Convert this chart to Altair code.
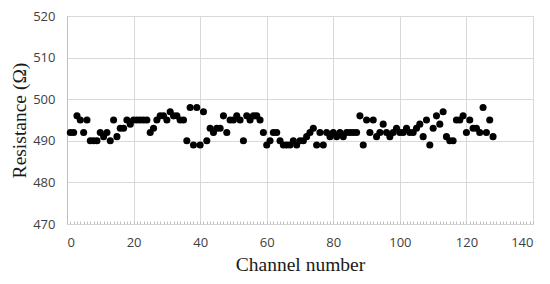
import altair as alt
import pandas as pd

channels = list(range(1, 129))
resistance = [
    492, 492, 496, 495, 492, 495, 490, 490, 490, 492,
    491, 492, 490, 495, 491, 493, 493, 495, 494, 495,
    495, 495, 495, 495, 492, 493, 495, 496, 496, 495,
    497, 496, 496, 495, 495, 490, 498, 489, 498, 489,
    497, 490, 493, 492, 493, 493, 496, 492, 495, 495,
    496, 495, 490, 496, 495, 496, 496, 495, 492, 489,
    490, 492, 492, 490, 489, 489, 489, 490, 489, 490,
    490, 491, 492, 493, 489, 492, 489, 492, 491, 492,
    491, 492, 491, 492, 492, 492, 492, 496, 489, 495,
    492, 495, 491, 492, 494, 492, 491, 492, 493, 492,
    492, 493, 492, 492, 493, 494, 491, 495, 489, 493,
    496, 494, 497, 491, 490, 490, 495, 495, 496, 492,
    495, 493, 493, 492, 498, 492, 495, 491,
]
x_ticks = list(range(0, 141))
y_ticks = [470, 480, 490, 500, 510, 520]

df = pd.DataFrame({"channel": channels, "resistance": resistance})

label_font = "Open Sans"
title_font = "Liberation Serif"

chart = alt.Chart(df).mark_circle(size=50, color="#000000", opacity=1).encode(
    x=alt.X(
        "channel:Q",
        scale=alt.Scale(domain=[0, 140], nice=False, zero=False),
        axis=alt.Axis(
            values=x_ticks,
            labelExpr="datum.value % 20 == 0 ? datum.label : ''",
            title="Channel number",
            titleFont=title_font,
            titleFontSize=19.5,
            titleFontWeight="normal",
            titleColor="#1a1a1a",
            titlePadding=6,
            labelFont=label_font,
            labelFontSize=13,
            labelColor="#404040",
            labelPadding=12,
            labelOverlap=False,
            domain=False,
            offset=-3,
            tickSize=3,
            tickColor="#bfbfbf",
            tickWidth=1,
            grid=True,
            gridColor={"condition": {"test": "datum.value % 20 == 0", "value": "#d9d9d9"}, "value": "transparent"},
            gridWidth=1,
        ),
    ),
    y=alt.Y(
        "resistance:Q",
        scale=alt.Scale(domain=[470, 520], nice=False, zero=False),
        axis=alt.Axis(
            values=y_ticks,
            title="Resistance (Ω)",
            titleFont=title_font,
            titleFontSize=19.5,
            titleFontWeight="normal",
            titleColor="#1a1a1a",
            titlePadding=3,
            labelFont=label_font,
            labelFontSize=13,
            labelColor="#404040",
            labelPadding=12,
            ticks=False,
            domain=True,
            domainColor="#bfbfbf",
            gridColor="#d9d9d9",
            gridWidth=1,
        ),
    ),
).properties(
    width=466,
    height=208,
    autosize=alt.AutoSizeParams(type="none"),
    padding={"left": 59, "top": 8, "right": 9, "bottom": 52},
).configure_view(stroke=None).configure(background="#ffffff")

chart.save("out.html", embed_options={"renderer": "svg", "actions": False})
